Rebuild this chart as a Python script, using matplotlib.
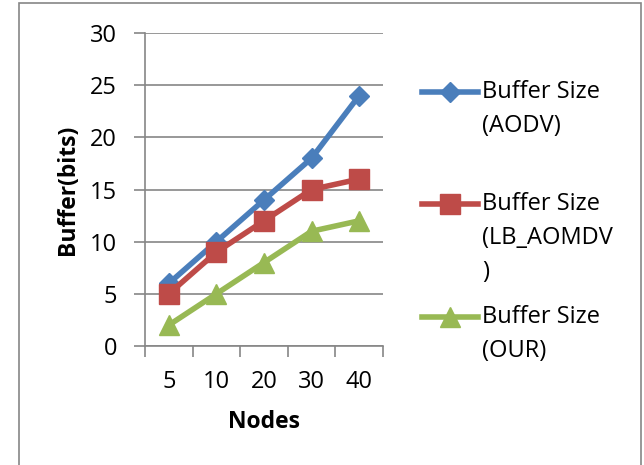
import matplotlib
matplotlib.use('Agg')
import matplotlib.pyplot as plt
from matplotlib.patches import Rectangle
from matplotlib.lines import Line2D

# ── Datos ────────────────────────────────────────────────────
nodos = ['5', '10', '20', '30', '40']
buffer_aodv = [6, 10, 14, 18, 24]
buffer_lb_aomdv = [5, 9, 12, 15, 16]
buffer_our = [2, 5, 8, 11, 12]
etiquetas = [['Buffer Size', '(AODV)'],
             ['Buffer Size', '(LB_AOMDV', ')'],
             ['Buffer Size', '(OUR)']]

AZUL = '#4A7EBB'
ROJO = '#BE4B48'
VERDE = '#98B954'
GRIS = '#868686'
FS = 17

plt.rcParams['font.family'] = ['Open Sans', 'DejaVu Sans']

W, H = 644, 465
fig = plt.figure(figsize=(W / 100, H / 100), dpi=100)
fig.patch.set_facecolor('white')

# marco del gráfico (estilo Excel)
fig.patches.append(Rectangle((19 / W, -0.05), (641 - 19) / W, 1 - 3 / H + 0.05,
                             transform=fig.transFigure, fill=False,
                             edgecolor=GRIS, linewidth=1.2))

ax = fig.add_axes([145 / W, 1 - 346 / H, (383 - 145) / W, (346 - 33) / H])

x = range(len(nodos))
lineas = []
lineas += ax.plot(x, buffer_aodv, color=AZUL, lw=4, marker='D', ms=10)
lineas += ax.plot(x, buffer_lb_aomdv, color=ROJO, lw=4, marker='s', ms=14)
lineas += ax.plot(x, buffer_our, color=VERDE, lw=4, marker='^', ms=15)

ax.set_xlim(-0.5, len(nodos) - 0.5)
ax.set_ylim(0, 30)
ax.set_yticks(range(0, 31, 5))
ax.set_xticks(x)
ax.set_xticklabels(nodos)
ax.set_xticks([i - 0.5 for i in range(len(nodos) + 1)], minor=True)
ax.tick_params(axis='x', which='major', length=0, pad=17, labelsize=FS)
ax.tick_params(axis='x', which='minor', length=8, color=GRIS, width=1.2)
ax.tick_params(axis='y', length=8, color=GRIS, width=1.2, pad=12, labelsize=FS)

ax.grid(axis='y', color=GRIS, lw=1.2)
ax.set_axisbelow(True)
for s in ['top', 'right']:
    ax.spines[s].set_visible(False)
for s in ['left', 'bottom']:
    ax.spines[s].set_color(GRIS)
    ax.spines[s].set_linewidth(1.2)

ax.set_xlabel('Nodes', fontsize=16.5, fontweight='bold', va='center')
ax.set_ylabel('Buffer(bits)', fontsize=16.5, fontweight='bold', va='center')
ax.xaxis.set_label_coords(0.5, -(422 - 346) / 313)
ax.yaxis.set_label_coords((68 - 145) / 238, 0.5)

# ── Leyenda estilo Excel (marcador alineado con la primera línea) ──
y_entradas = [92, 204, 317]
paso = 34
for ln, lineas_txt, y0 in zip(lineas, etiquetas, y_entradas):
    fy = 1 - y0 / H
    fig.add_artist(Line2D([422 / W, 478 / W], [fy, fy], transform=fig.transFigure,
                          color=ln.get_color(), lw=4))
    fig.add_artist(Line2D([450 / W], [fy], transform=fig.transFigure,
                          color=ln.get_color(), marker=ln.get_marker(),
                          ms=ln.get_markersize()))
    for k, t in enumerate(lineas_txt):
        fig.text(482 / W, 1 - (y0 + k * paso) / H, t, fontsize=FS,
                 ha='left', va='center')

plt.savefig('out.png', dpi=100)
